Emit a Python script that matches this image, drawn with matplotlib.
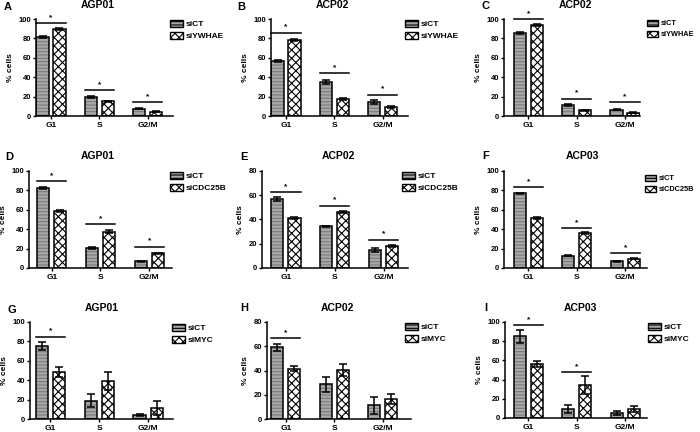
import matplotlib
matplotlib.use('Agg')
import matplotlib.pyplot as plt
import matplotlib.patches as mpatches
import numpy as np

plt.rcParams['font.family'] = ['Liberation Sans', 'DejaVu Sans']
plt.rcParams['font.weight'] = 'bold'
plt.rcParams['hatch.linewidth'] = 0.8

# ---------------------------------------------------------------------------
phases = ['G1', 'S', 'G2/M']
letters = ['A', 'B', 'C', 'D', 'E', 'F', 'G', 'H', 'I']
titles = ['AGP01', 'ACP02', 'ACP02', 'AGP01', 'ACP02', 'ACP03', 'AGP01', 'ACP02', 'ACP03']
knockdown = ['siYWHAE'] * 3 + ['siCDC25B'] * 3 + ['siMYC'] * 3
ymax = [100, 100, 100, 100, 80, 100, 100, 80, 100]

ct_mean = [[81, 20, 7.5], [57, 35, 14.5], [86, 11, 6.5],
           [82, 20.5, 7], [57, 34.5, 14.6], [77, 12.5, 7],
           [75.5, 19, 4.5], [59, 28.5, 11.5], [85, 9.5, 5]]
ct_err = [[1, 1, 0.5], [1, 2, 2], [1, 1, 0.5],
          [1, 1, 0.5], [1.5, 0.5, 1.5], [0.5, 0.5, 0.5],
          [4, 7, 1], [3, 6, 7], [7, 4, 2]]
kd_mean = [[89.5, 15, 4.5], [78, 18, 9], [94, 6, 3.5],
           [59, 37.5, 15], [41.5, 46, 18], [51.5, 36, 9.5],
           [48.5, 39, 11.5], [41.5, 40.5, 16.5], [56, 34.5, 9]]
kd_err = [[1, 0.5, 0.5], [1, 1, 1], [1, 0.5, 0.5],
          [1, 1.5, 0.5], [0.8, 0.8, 0.8], [1, 1, 0.5],
          [5, 9, 7], [2, 5, 4], [3, 9, 3]]
# height of significance line (None = no star)
sig_y = [[96, 27, 14], [86, 44, 22], [100, 18, 14],
         [90, 45, 22], [62.5, 51.5, 23.5], [83, 41.5, 15],
         [85, None, None], [66.5, None, None], [96.5, 47.5, None]]

# ---------------------------------------------------------------------------
W, H = 700, 432
# axes boxes in pixels: left, right, top, bottom
boxes = [(36, 173, 19, 116), (271, 408, 19, 116), (504, 640, 19, 116),
         (29, 172, 171, 268), (262, 408, 171, 268), (504, 647, 171, 268),
         (30, 173, 322, 419), (267, 411, 322, 419), (505, 647, 322, 418)]
xlims = [(-0.31, 2.52), (-0.31, 2.52), (-0.5, 2.31),
         (-0.47, 2.47), (-0.49, 2.5), (-0.5, 2.45),
         (-0.42, 2.51), (-0.39, 2.58), (-0.48, 2.45)]
title_xy = [(98, 5), (332, 5), (575, 5), (98, 156), (338, 156), (582, 156),
            (102, 308), (337, 308), (580, 308)]
letter_xy = [(4, 7), (237, 7), (481, 6), (5, 157), (240, 157), (482, 156),
             (7, 310), (240, 308), (484, 308)]
legend_xy = [(170, 30), (405, 30), (647, 29), (170, 182), (402, 182), (645, 184),
             (172, 334), (405, 333), (648, 333)]
legend_fs = [6, 6, 5.3, 6, 6, 5.3, 6, 6, 6]

fig = plt.figure(figsize=(7, 4.32), dpi=100)

bw = 0.25
off = 0.175
x = np.arange(3)
ct_face = '#a8a8a8'

for i in range(9):
    l, r, t, b = boxes[i]
    ax = fig.add_axes([l / W, 1 - b / H, (r - l) / W, (b - t) / H])

    # siCT: grey with horizontal stripes
    ax.bar(x - off, ct_mean[i], bw, color=ct_face, edgecolor='#7a7a7a',
           hatch='-----', linewidth=0, zorder=2)
    ax.bar(x - off, ct_mean[i], bw, fill=False, edgecolor='black',
           linewidth=1.1, zorder=3)
    ax.errorbar(x - off, ct_mean[i], yerr=ct_err[i], fmt='none',
                ecolor='black', elinewidth=1.1, capsize=3, capthick=1.1, zorder=4)
    # knockdown: checkered
    ax.bar(x + off, kd_mean[i], bw, color='white', edgecolor='black',
           hatch='xxxx', linewidth=0, zorder=2)
    ax.bar(x + off, kd_mean[i], bw, fill=False, edgecolor='black',
           linewidth=1.1, zorder=3)
    ax.errorbar(x + off, kd_mean[i], yerr=kd_err[i], fmt='none',
                ecolor='black', elinewidth=1.1, capsize=3, capthick=1.1, zorder=4)

    for j in range(3):
        if sig_y[i][j] is not None:
            ax.plot([j - 0.3, j + 0.3], [sig_y[i][j]] * 2, color='black',
                    lw=1.1, clip_on=False)
            ax.text(j, sig_y[i][j] + ymax[i] * 0.02, '*', ha='center',
                    va='bottom', fontsize=6)

    ax.set_xlim(*xlims[i])
    ax.set_ylim(0, ymax[i])
    ax.set_yticks(np.arange(0, ymax[i] + 1, 20))
    ax.set_xticks(x)
    ax.set_xticklabels(phases, fontsize=6, fontweight='bold')
    ax.tick_params(axis='y', labelsize=5.5, length=2.5, width=1, pad=1)
    ax.tick_params(axis='x', length=2.5, width=1, pad=1.5)
    for lab in ax.get_yticklabels():
        lab.set_fontweight('bold')
    ax.spines['top'].set_visible(False)
    ax.spines['right'].set_visible(False)
    ax.spines['left'].set_linewidth(1.1)
    ax.spines['bottom'].set_linewidth(1.1)
    ax.set_ylabel('% cells', fontsize=6, fontweight='bold', labelpad=3)

    tx, ty = title_xy[i]
    fig.text(tx / W, 1 - ty / H, titles[i], ha='center', va='center',
             fontsize=7.5, fontweight='bold')
    lx, ly = letter_xy[i]
    fig.text(lx / W, 1 - ly / H, letters[i], ha='left', va='center',
             fontsize=8, fontweight='bold')

    h1 = mpatches.Patch(facecolor=ct_face, edgecolor='black', hatch='-----', lw=1)
    h2 = mpatches.Patch(facecolor='white', edgecolor='black', hatch='xxxx', lw=1)
    gx, gy = legend_xy[i]
    ax.legend([h1, h2], ['siCT', knockdown[i]], loc='center left',
              bbox_to_anchor=(gx / W, 1 - gy / H), bbox_transform=fig.transFigure,
              frameon=False, fontsize=legend_fs[i], handlelength=1.5,
              handleheight=0.9, handletextpad=0.4, labelspacing=0.45,
              borderpad=0, borderaxespad=0)

fig.savefig('out.png', dpi=100)
